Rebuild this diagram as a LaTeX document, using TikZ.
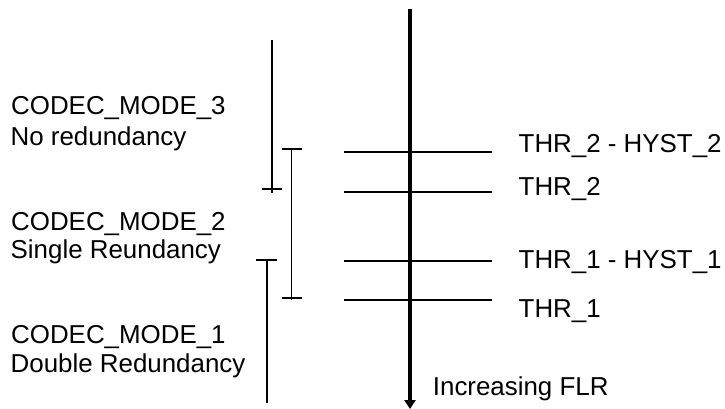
\documentclass[tikz,border=0pt]{standalone}
\usepackage{fontspec}
\setmainfont{Liberation Sans}
\usetikzlibrary{arrows.meta}
\begin{document}
\begin{tikzpicture}[x=1pt,y=-1pt,
  lbl/.style={anchor=base west,inner sep=0pt,font=\fontsize{25.9}{30}\selectfont},
  bar/.style={line width=1.6pt},
  thr/.style={line width=1.8pt},
  axis/.style={line width=3.2pt,-{Triangle[length=9pt,width=11pt]}}]
\useasboundingbox (0,0) rectangle (725,409);
% main axis
\coordinate (top) at (410,9);
\coordinate (bot) at (410,409);
\draw[axis] (top) -- (bot);
% threshold lines
\draw[thr] (344,152) -- (492,152);
\draw[thr] (344,192) -- (492,192);
\draw[thr] (344,261) -- (492,261);
\draw[thr] (344,300) -- (492,300);
% mode bars
\draw[bar] (272,40) -- (272,193);
\draw[bar] (262,189) -- (282,189);
\draw[bar] (291.5,149) -- (291.5,300);
\draw[bar] (281.5,149) -- (301.5,149);
\draw[bar] (281.5,298) -- (301.5,298);
\draw[bar] (266.7,260) -- (266.7,403);
\draw[bar] (256,260) -- (277,260);
% labels
\node[lbl] (m3a) at (11,115) {CODEC\_MODE\_3};
\node[lbl] (m3b) at (10.5,145) {No redundancy};
\node[lbl] (m2a) at (11,230) {CODEC\_MODE\_2};
\node[lbl] (m2b) at (10.5,258) {Single Reundancy};
\node[lbl] (m1a) at (11,343) {CODEC\_MODE\_1};
\node[lbl] (m1b) at (10.5,372.5) {Double Redundancy};
\node[lbl] (t2h) at (518.5,153) {THR\_2 - HYST\_2};
\node[lbl] (t2) at (518.5,195) {THR\_2};
\node[lbl] (t1h) at (518.5,268) {THR\_1 - HYST\_1};
\node[lbl] (t1) at (518.5,317) {THR\_1};
\node[lbl] (flr) at (432.7,395) {Increasing FLR};
\end{tikzpicture}
\end{document}
